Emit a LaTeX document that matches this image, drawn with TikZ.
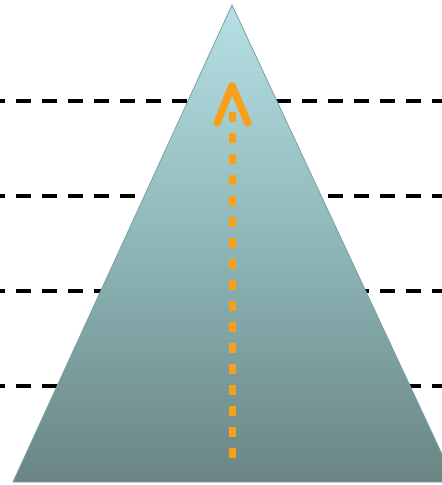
\documentclass[tikz,border=0pt]{standalone}
\usetikzlibrary{calc}
\definecolor{tritop}{RGB}{182,224,229}
\definecolor{trimid}{RGB}{142,182,184}
\definecolor{tribot}{RGB}{106,133,132}
\definecolor{triedge}{RGB}{120,160,164}
\definecolor{arroworange}{RGB}{248,160,26}
\tikzset{
  x=1pt,y=-1pt,
  levelline/.style={line width=4.5pt,black,dash pattern=on 15pt off 11pt,dash phase=10pt},
  dotline/.style={line width=7pt,arroworange,dash pattern=on 10pt off 11pt},
  chevron/.style={line width=7.5pt,arroworange,line cap=round,line join=round}
}
\begin{document}
\begin{tikzpicture}
\useasboundingbox (0,0) rectangle (442,485);
\begin{scope}
\clip (0,0) rectangle (442,485);
% dashed level lines
\coordinate (l1a) at (0,101); \coordinate (l1b) at (442,101);
\coordinate (l2a) at (0,196); \coordinate (l2b) at (442,196);
\coordinate (l3a) at (0,291); \coordinate (l3b) at (442,291);
\coordinate (l4a) at (0,386); \coordinate (l4b) at (442,386);
\draw[levelline] (l1a) -- (l1b);
\draw[levelline] (l2a) -- (l2b);
\draw[levelline] (l3a) -- (l3b);
\draw[levelline] (l4a) -- (l4b);
% triangle
\coordinate (apex) at (232,5);
\coordinate (bl) at (13,482);
\coordinate (br) at (455,482);
\shade[top color=tritop, bottom color=tribot, middle color=trimid, draw=triedge, line width=0.8pt] (apex) -- (br) -- (bl) -- cycle;
\end{scope}
% arrow
\coordinate (abot) at (232,458);
\coordinate (atop) at (232,112);
\coordinate (tip) at (232,86);
\coordinate (armL) at (217,123);
\coordinate (armR) at (248,123);
\draw[dotline] (abot) -- (atop);
\draw[chevron] (armL) -- (tip) -- (armR);
\end{tikzpicture}
\end{document}
